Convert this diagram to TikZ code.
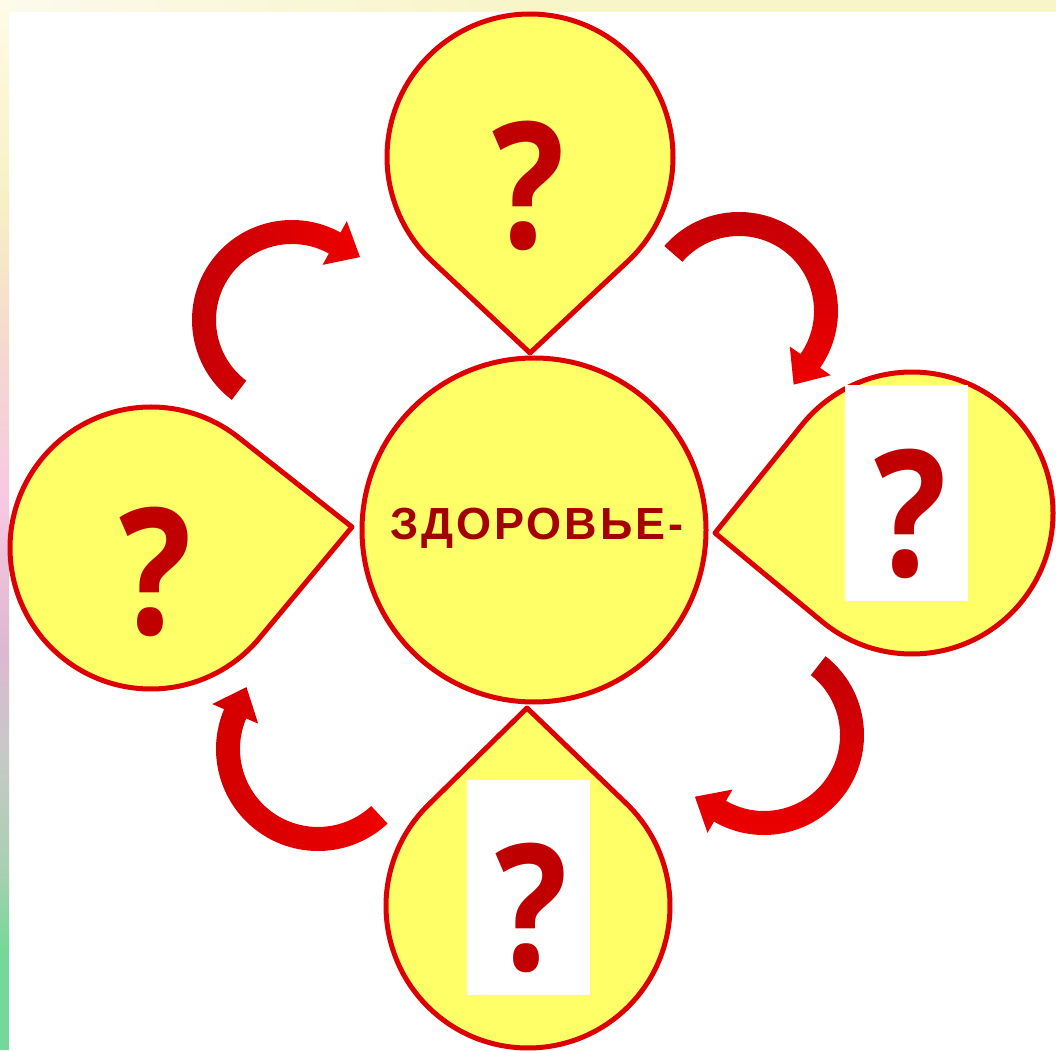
\documentclass[tikz,border=0pt]{standalone}
\usepackage{fontspec}
\setmainfont{Liberation Sans}
\newfontfamily\qfont{Open Sans}
\newfontfamily\wordfont[LetterSpace=6.5]{Liberation Sans}
\usetikzlibrary{calc}
\definecolor{dropfill}{HTML}{FFFF68}
\definecolor{dropedge}{HTML}{DD0000}
\definecolor{qmark}{HTML}{C00000}
\definecolor{wordred}{HTML}{A40000}
\definecolor{arrbright}{HTML}{EE0000}
\definecolor{arrdark}{HTML}{C20006}
\definecolor{stA}{RGB}{255,251,232}
\definecolor{stB}{RGB}{248,240,196}
\definecolor{stC}{RGB}{245,216,208}
\definecolor{stD}{RGB}{248,200,226}
\definecolor{stE}{RGB}{221,184,208}
\definecolor{stF}{RGB}{200,200,200}
\definecolor{stG}{RGB}{168,208,176}
\definecolor{stH}{RGB}{118,216,152}
\definecolor{topL}{RGB}{252,250,236}
\definecolor{topR}{RGB}{248,245,200}

% drop: name, cx, cy, r, tip x, tip y
\newcommand\mydrop[6]{%
  \pgfmathsetmacro\dth{atan2(#6-#3,#5-#2)}%
  \pgfmathsetmacro\dd{veclen(#5-#2,#6-#3)}%
  \pgfmathsetmacro\dphi{acos(#4/\dd)}%
  \pgfmathsetmacro\da{\dth+\dphi}%
  \pgfmathsetmacro\db{\dth-\dphi+360}%
  \coordinate (#1-c) at (#2,#3);
  \coordinate (#1-t) at (#5,#6);
  \draw[dropstyle] (#1-t) -- ($(#1-c)+(\da:#4)$) arc[start angle=\da, end angle=\db, radius=#4] -- cycle;
}
% curved arrow: name, cx, cy, R, tail angle, head angle, style
\newcommand\mycurvarrow[7]{%
  \pgfmathsetmacro\ro{#4+12}%
  \pgfmathsetmacro\ri{#4-12}%
  \pgfmathsetmacro\ho{#4+25}%
  \pgfmathsetmacro\hi{#4-25}%
  \pgfmathsetmacro\tang{#6-90}%
  \coordinate (#1) at (#2,#3);
  \path[#7] ($(#1)+(#5:\ro)$) arc[start angle=#5, end angle=#6, radius=\ro]
     -- ($(#1)+(#6:\ho)$) -- ($(#1)+(#6:#4)+(\tang:29)$) -- ($(#1)+(#6:\hi)$)
     -- ($(#1)+(#6:\ri)$) arc[start angle=#6, end angle=#5, radius=\ri] -- cycle;
}

\begin{document}
\begin{tikzpicture}[x=1pt,y=1pt,
  dropstyle/.style={fill=dropfill, draw=dropedge, line width=5pt, line join=round},
  hubstyle/.style={circle, fill=dropfill, draw=dropedge, line width=5pt, minimum size=344pt, inner sep=0pt},
  wordstyle/.style={inner sep=0pt, text=wordred, font=\wordfont\bfseries\fontsize{45}{45}\selectfont},
  qm/.style={inner sep=0pt, text=qmark, font=\qfont\bfseries\fontsize{176}{176}\selectfont, xscale=0.86},
  cover/.style={fill=white, draw=none, inner sep=0pt},
]
\useasboundingbox (0,0) rectangle (1056,1050);
\fill[white] (0,0) rectangle (1056,1050);

% top strip
\shade[left color=topL, right color=topR] (0,1038) rectangle (520,1050);
\fill[topR] (520,1038) rectangle (1056,1050);
% left strip
\shade[top color=stA, bottom color=stB] (0,850) rectangle (9,1050);
\shade[top color=stB, bottom color=stC] (0,700) rectangle (9,850);
\shade[top color=stC, bottom color=stD] (0,550) rectangle (9,700);
\shade[top color=stD, bottom color=stE] (0,400) rectangle (9,550);
\shade[top color=stE, bottom color=stF] (0,300) rectangle (9,400);
\shade[top color=stF, bottom color=stG] (0,180) rectangle (9,300);
\shade[top color=stG, bottom color=stH] (0,100) rectangle (9,180);
\fill[stH] (0,0) rectangle (9,100);

% drops
\mydrop{dtop}{530}{893}{143}{530}{697}
\mydrop{dleft}{151}{502}{141}{352}{523}
\mydrop{dright}{912}{537}{141}{715}{517}
\mydrop{dbot}{528}{144}{142}{527}{342}

% hub
\node[hubstyle] (hub) at (534,520) {};
\node[wordstyle, anchor=base] (word) at (537,510) {ЗДОРОВЬЕ-};

% arrows
\mycurvarrow{atl}{292}{730}{88}{233}{61}{shade, left color=arrdark, right color=arrbright}
\mycurvarrow{atr}{739}{739}{87}{139}{-35}{shade, top color=arrdark, bottom color=arrbright}
\mycurvarrow{abr}{764}{315}{88}{52}{-120}{shade, top color=arrdark, bottom color=arrbright}
\mycurvarrow{abl}{318}{301}{90}{313}{157}{shade, left color=arrbright!88!black, right color=arrbright}

% covers
\node[cover, minimum width=123pt, minimum height=216pt] (cright) at (906.5,557) {};
\node[cover, minimum width=123pt, minimum height=215pt] (cbot) at (528.5,162.5) {};

% question marks
\node[qm] (qtop) at (529,864) {?};
\node[qm] (qleft) at (156,478) {?};
\node[qm] (qright) at (911,536) {?};
\node[qm] (qbot) at (532,142) {?};
\end{tikzpicture}
\end{document}
